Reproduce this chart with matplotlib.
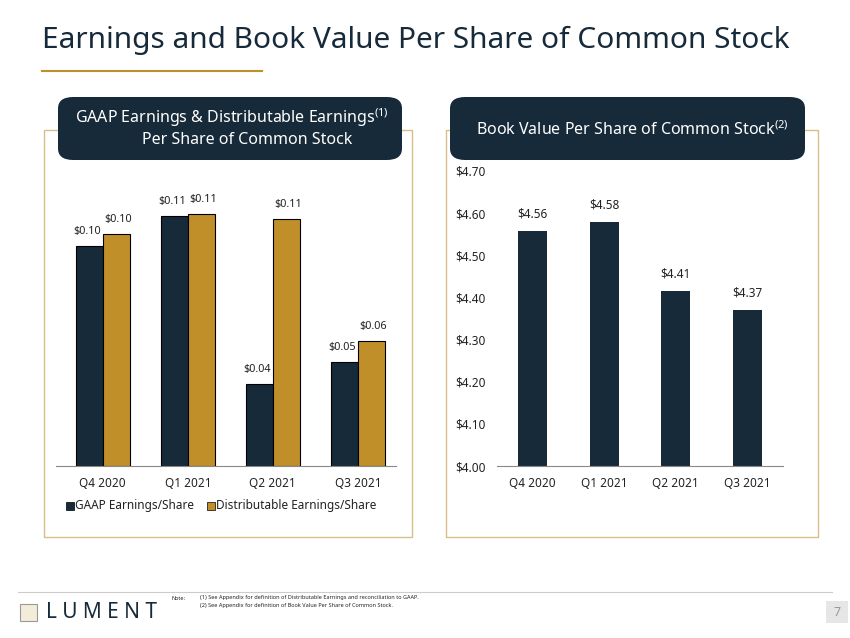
import matplotlib
matplotlib.use("Agg")
import matplotlib.pyplot as plt
from matplotlib.patches import FancyBboxPatch, Rectangle
from matplotlib.lines import Line2D

quarters = ["Q4 2020", "Q1 2021", "Q2 2021", "Q3 2021"]
gaap = [0.097, 0.110, 0.036, 0.046]
dist = [0.102, 0.111, 0.109, 0.055]
gaap_lbl = ["$0.10", "$0.11", "$0.04", "$0.05"]
dist_lbl = ["$0.10", "$0.11", "$0.11", "$0.06"]
bv = [4.558, 4.579, 4.415, 4.370]
bv_lbl = ["$4.56", "$4.58", "$4.41", "$4.37"]
bv_ticks = [4.0, 4.1, 4.2, 4.3, 4.4, 4.5, 4.6, 4.7]

NAVY = "#172a3a"
GOLD = "#c18f2a"
TXT = "#222222"
W, H = 850, 638
plt.rcParams['font.family'] = ['Noto Sans', 'DejaVu Sans']
plt.rcParams['mathtext.default'] = 'regular'
fig = plt.figure(figsize=(8.5, 6.38), dpi=100)

def fx(x): return x / W
def fy(y): return 1 - y / H

fig.text(fx(42), fy(40), "Earnings and Book Value Per Share of Common Stock", fontsize=21.5, color=NAVY, va="center", fontweight="medium")
fig.add_artist(Line2D([fx(42), fx(262)], [fy(71), fy(71)], color=GOLD, lw=1.5))

for x0, x1 in [(44, 412), (446, 818)]:
    fig.add_artist(Rectangle((fx(x0), fy(537)), fx(x1 - x0), (537 - 130) / H, fill=False, ec="#d9bf85", lw=1))

for x0, x1 in [(58, 402), (450, 805)]:
    fig.add_artist(FancyBboxPatch((fx(x0), fy(160)), fx(x1 - x0), 63 / H,
                                  boxstyle="round,pad=0,rounding_size=0.018", fc=NAVY, ec="none"))
fig.text(fx(232), fy(118), r"GAAP Earnings & Distributable Earnings$^{(1)}$", color="white", fontsize=11.5, ha="center", va="center")
fig.text(fx(247), fy(140), "Per Share of Common Stock", color="white", fontsize=11.5, ha="center", va="center")
fig.text(fx(632), fy(130), r"Book Value Per Share of Common Stock$^{(2)}$", color="white", fontsize=11.5, ha="center", va="center")

ax1 = fig.add_axes([fx(56), fy(466), fx(340), (466 - 180) / H])
x = range(len(quarters))
bw = 0.32
for i in x:
    ax1.bar(i - bw / 2, gaap[i], bw, color=NAVY, ec="black", lw=0.8)
    ax1.bar(i + bw / 2, dist[i], bw, color=GOLD, ec="black", lw=0.8)
    ax1.text(i - bw / 2 - 0.02, gaap[i] + 0.004, gaap_lbl[i], ha="center", va="bottom", fontsize=7.8, color=TXT)
    ax1.text(i + bw / 2 + 0.02, dist[i] + 0.004, dist_lbl[i], ha="center", va="bottom", fontsize=7.8, color=TXT)
ax1.set_ylim(0, 0.126)
ax1.set_xlim(-0.55, 3.45)
ax1.set_xticks(list(x), quarters, fontsize=8.5, color=TXT)
ax1.set_yticks([])
for s in ["top", "right", "left"]:
    ax1.spines[s].set_visible(False)
ax1.spines["bottom"].set_color("#888888")
ax1.tick_params(axis="x", length=0, pad=8)
fig.add_artist(Rectangle((fx(66), fy(510)), fx(8), 8 / H, fc=NAVY, ec="black", lw=0.5))
fig.text(fx(75), fy(506), "GAAP Earnings/Share", fontsize=8.5, color=TXT, va="center")
fig.add_artist(Rectangle((fx(207), fy(510)), fx(8), 8 / H, fc=GOLD, ec="black", lw=0.5))
fig.text(fx(216), fy(506), "Distributable Earnings/Share", fontsize=8.5, color=TXT, va="center")

ax2 = fig.add_axes([fx(497), fy(466), fx(286), (466 - 171) / H])
ax2.bar(list(x), [v - 4.0 for v in bv], 0.4, bottom=4.0, color=NAVY)
for i in x:
    ax2.text(i, bv[i] + 0.025, bv_lbl[i], ha="center", va="bottom", fontsize=8.5, color=TXT)
ax2.set_ylim(4.0, 4.7)
ax2.set_xlim(-0.5, 3.5)
ax2.set_yticks(bv_ticks, [f"${t:.2f}" for t in bv_ticks], fontsize=8.5, color=TXT)
ax2.set_xticks(list(x), quarters, fontsize=8.5, color=TXT)
for s in ["top", "right", "left"]:
    ax2.spines[s].set_visible(False)
ax2.spines["bottom"].set_color("#888888")
ax2.tick_params(length=0)
ax2.tick_params(axis="x", pad=8)
ax2.tick_params(axis="y", pad=8)

fig.add_artist(Line2D([fx(18), fx(832)], [fy(592), fy(592)], color="#cccccc", lw=0.8))
fig.add_artist(Rectangle((fx(20), fy(621)), fx(17), 17 / H, fc="#f3ecd9", ec="#999999", lw=0.8))
fig.text(fx(46), fy(612), "L U M E N T", fontsize=15, color=NAVY, va="center")
fig.text(fx(172), fy(598), "Note:", fontsize=4, color=TXT, va="center")
fig.text(fx(200), fy(598), "(1) See Appendix for definition of Distributable Earnings and reconciliation to GAAP.", fontsize=4, color=TXT, va="center")
fig.text(fx(200), fy(606), "(2) See Appendix for definition of Book Value Per Share of Common Stock.", fontsize=4, color=TXT, va="center")
fig.add_artist(Rectangle((fx(826), fy(623)), fx(22), 22 / H, fc="#e6e6e6", ec="none"))
fig.text(fx(837), fy(612), "7", fontsize=9, color="#999999", ha="center", va="center")

fig.savefig("out.png", dpi=100)
